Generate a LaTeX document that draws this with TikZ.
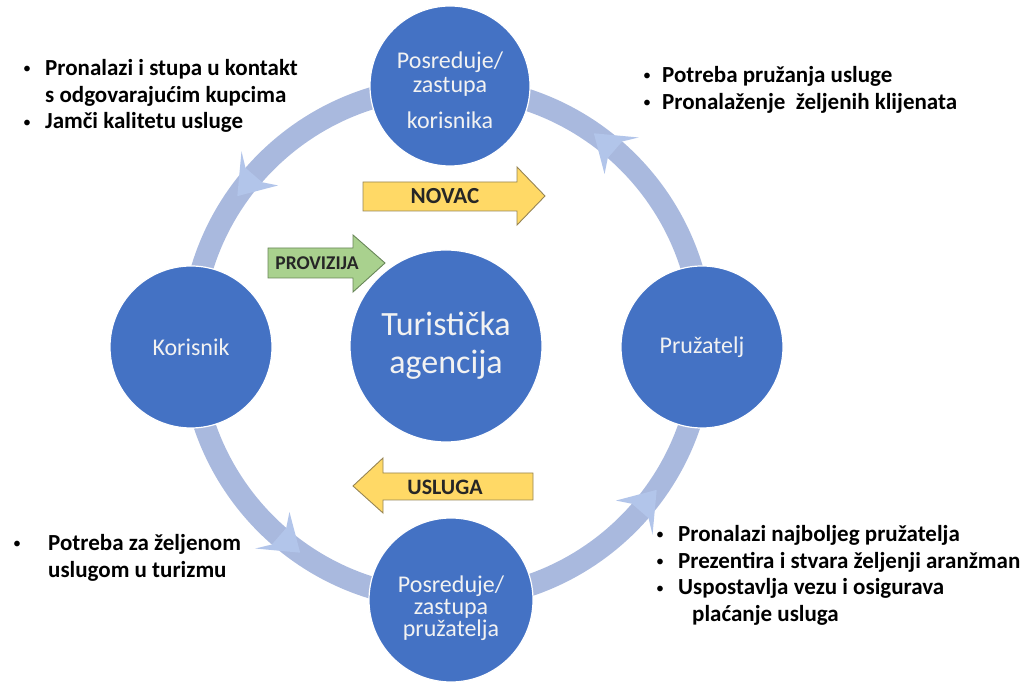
\documentclass[tikz,border=0pt]{standalone}
\usepackage{fontspec}
\setmainfont{Carlito}
\usetikzlibrary{calc}

\definecolor{krug}{RGB}{68,114,196}
\definecolor{prsten}{RGB}{169,185,222}
\definecolor{vrh}{RGB}{178,197,234}
\definecolor{zuta}{RGB}{255,217,102}
\definecolor{zutarub}{RGB}{150,132,84}
\definecolor{zelena}{RGB}{169,209,142}
\definecolor{zelenarub}{RGB}{104,134,88}
\definecolor{bijela}{RGB}{242,242,242}

\newcommand{\stavka}[1][14pt]{\llap{\raisebox{1.5pt}{\fontsize{16}{16}\selectfont\mdseries\textbullet}\hspace{#1}}}

\tikzset{
  krugovi/.style={circle, fill=krug, draw=white, line width=1.2pt, inner sep=0pt},
  upis/.style={text=bijela, align=center, inner sep=0pt, font=\fontsize{24}{24}\selectfont},
  popis/.style={align=left, anchor=north west, inner sep=0pt,
    font=\fontsize{23}{26.7}\selectfont\bfseries},
  zutastrelica/.style={fill=zuta, draw=zutarub, line width=0.9pt},
  zelenastrelica/.style={fill=zelena, draw=zelenarub, line width=0.9pt},
  natpis/.style={inner sep=0pt, font=\fontsize{23}{23}\selectfont\bfseries, text=black!85}
}

\begin{document}
\begin{tikzpicture}[x=1pt,y=1pt]
\useasboundingbox (0,0) rectangle (1027,682);

% prsten sa strelicama
\coordinate (S) at (447,339);
\draw[prsten, line width=22pt] (S) circle (256pt);
\foreach \kut in {47,137,227,317}
  \fill[vrh] ($(S)+(\kut:281pt)$) -- ($(S)+(\kut+8:256pt)$) -- ($(S)+(\kut:231pt)$)
    -- ($(S)+(\kut+2:245pt)$) -- ($(S)+(\kut+2:267pt)$) -- cycle;

% krugovi
\node[krugovi, minimum size=162pt] (korisnik) at (191,335) {};
\node[krugovi, minimum size=162pt] (pruzatelj) at (702,335) {};
\node[krugovi, minimum size=160pt] (gore) at (450,596) {};
\node[krugovi, minimum size=164pt] (dolje) at (451,82) {};
\node[krugovi, minimum size=192pt] (agencija) at (446,336) {};
\node[upis] (korisniktekst) at (korisnik) {Korisnik};
\node[upis] (pruzateljtekst) at (pruzatelj) {Pružatelj};
\node[upis, yshift=-4pt] (goretekst) at (gore) {Posreduje/\\zastupa\\[12pt]korisnika};
\node[upis, font=\fontsize{24}{22}\selectfont, yshift=-8pt] (doljetekst) at (dolje)
  {Posreduje/\\zastupa\\pružatelja};
\node[upis, font=\fontsize{34}{38}\selectfont] (agencijatekst) at (agencija)
  {Turistička\\agencija};

% blok strelice
\draw[zutastrelica] (363,500) -- (517,500) -- (517,515) -- (545,486)
  -- (517,457) -- (517,471) -- (363,471) -- cycle;
\node[natpis] (novac) at (445,486) {NOVAC};
\draw[zelenastrelica] (268,434) -- (353,434) -- (353,447) -- (385,419)
  -- (353,390) -- (353,404) -- (268,404) -- cycle;
\node[natpis, font=\fontsize{19.5}{19.5}\selectfont\bfseries] (provizija) at (317,419) {PROVIZIJA};
\draw[zutastrelica] (533,209) -- (383,209) -- (383,224) -- (353,196)
  -- (383,169) -- (383,182) -- (533,182) -- cycle;
\node[natpis, font=\fontsize{22}{22}\selectfont\bfseries] (usluga) at (445,195) {USLUGA};

% popisi
\node[popis] (lijevogore) at (45,623)
  {\stavka Pronalazi i stupa u kontakt\\
   s odgovarajućim kupcima\\
   \stavka Jamči kalitetu usluge};
\node[popis] (desnogore) at (662,616)
  {\stavka[11pt]Potreba pružanja usluge\\
   \stavka[11pt]Pronalaženje\ \ željenih klijenata};
\node[popis] (lijevodolje) at (48,148)
  {\stavka[27pt]Potreba za željenom\\
   uslugom u turizmu};
\node[popis] (desnodolje) at (678,157)
  {\stavka Pronalazi najboljeg pružatelja\\
   \stavka Prezentira i stvara željenji aranžman\\
   \stavka Uspostavlja vezu i osigurava\\
   \hspace{14pt}plaćanje usluga};
\end{tikzpicture}
\end{document}
